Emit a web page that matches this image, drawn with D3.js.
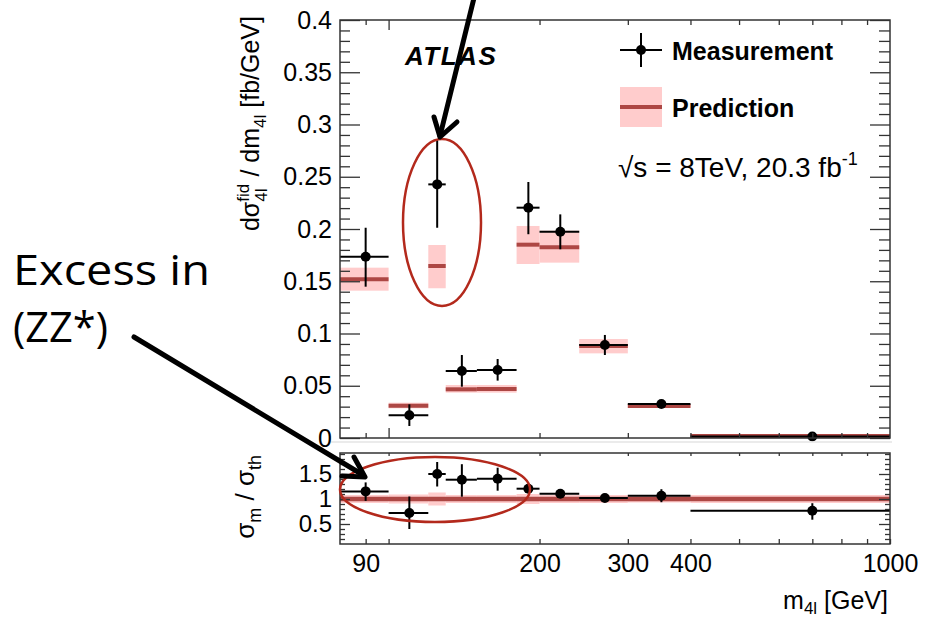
<!DOCTYPE html>
<html>
<head>
<meta charset="utf-8">
<script src="https://cdn.jsdelivr.net/npm/d3@7"></script>
<style>
  body { margin: 0; background: #fff; }
  svg { display: block; font-family: 'Liberation Sans', Arial, Helvetica, sans-serif; }
</style>
</head>
<body>
<script>
'use strict';

// m4l bins [GeV]
const binLow = [80, 100, 120, 130, 150, 180, 200, 240, 300, 400];
const binHigh = [100, 120, 130, 150, 180, 200, 240, 300, 400, 1000];
const binCentre = [90, 110, 125, 140, 165, 190, 220, 270, 350, 700];

// measured d(sigma)/dm4l [fb/GeV]
const measured = [0.1735, 0.0217, 0.2427, 0.0641, 0.0651, 0.2204, 0.1974, 0.089, 0.0325, 0.0015];
const measErrUp = [0.0277, 0.0105, 0.0423, 0.0153, 0.0105, 0.0246, 0.0166, 0.0096, 0.003, 0.0005];
const measErrDown = [0.0287, 0.0102, 0.0415, 0.015, 0.0102, 0.0254, 0.0168, 0.0096, 0.003, 0.0005];

// prediction and its band
const predicted = [0.152, 0.0309, 0.1646, 0.0466, 0.0469, 0.185, 0.1825, 0.088, 0.0306, 0.002];
const predLow = [0.141, 0.0284, 0.1433, 0.0434, 0.0434, 0.1665, 0.1678, 0.081, 0.0287, 0.0012];
const predHigh = [0.163, 0.0338, 0.1847, 0.0507, 0.0507, 0.2029, 0.1984, 0.0947, 0.0325, 0.0028];

// ratio panel
const ratio = [1.152, 0.72, 1.5, 1.386, 1.406, 1.206, 1.106, 1.02, 1.066, 0.766];
const ratioErrUp = [0.18, 0.33, 0.24, 0.31, 0.22, 0.09, 0.05, 0.04, 0.13, 0.15];
const ratioErrDown = [0.19, 0.32, 0.25, 0.34, 0.24, 0.09, 0.05, 0.04, 0.13, 0.18];
const ratioBand = [0.08, 0.09, 0.13, 0.08, 0.08, 0.1, 0.08, 0.08, 0.07, 0.08];

// tick labels
const topTicks = [0, 0.05, 0.1, 0.15, 0.2, 0.25, 0.3, 0.35, 0.4];
const ratioTicks = [0.5, 1, 1.5];
const massTicks = [90, 200, 300, 400, 1000];

const width = 925;
const height = 619;
const bandColor = '#ffcccc';
const predColor = '#ad4744';
const ovalColor = '#b3291c';

const svg = d3.select('body').append('svg')
  .attr('width', width)
  .attr('height', height);

const x = d3.scaleLog().domain([80, 1000]).range([340, 890]);
const yTop = d3.scaleLinear().domain([0, 0.4]).range([438, 20]);
const yRatio = d3.scaleLinear().domain([0.1, 1.92]).range([544, 453]);

const fmt = function(d) { return String(+d.toFixed(2)); };
const minorMass = [90, 200, 300, 500, 600, 700, 800, 900, 400];

function tickGroup(axis, pos, values, size, labels, fontSize) {
  const g = svg.append('g').attr('transform', pos);
  g.call(axis.tickValues(values).tickSizeInner(-size).tickSizeOuter(0).tickPadding(8)
    .tickFormat(labels ? fmt : function() { return ''; }));
  g.attr('font-family', null).attr('font-size', fontSize || 25);
  g.select('.domain').remove();
  g.selectAll('line').attr('stroke', '#333').attr('stroke-width', 1.3);
  g.selectAll('text').attr('fill', '#000');
  return g;
}

function minorValues(lo, hi, step, majors) {
  const out = [];
  for (let v = lo; v <= hi + 1e-9; v += step) {
    const r = +v.toFixed(3);
    if (!majors.some(function(m) { return Math.abs(m - r) < 1e-6; })) out.push(r);
  }
  return out;
}

// ---- top panel marks
const idx = d3.range(binLow.length);

svg.append('g').selectAll('rect')
  .data(idx).enter().append('rect')
  .attr('x', function(i) { return x(binLow[i]); })
  .attr('width', function(i) { return x(binHigh[i]) - x(binLow[i]); })
  .attr('y', function(i) { return yTop(predHigh[i]); })
  .attr('height', function(i) { return yTop(predLow[i]) - yTop(predHigh[i]); })
  .attr('fill', bandColor);

svg.append('g').selectAll('line')
  .data(idx).enter().append('line')
  .attr('x1', function(i) { return x(binLow[i]); })
  .attr('x2', function(i) { return x(binHigh[i]); })
  .attr('y1', function(i) { return yTop(predicted[i]); })
  .attr('y2', function(i) { return yTop(predicted[i]); })
  .attr('stroke', predColor)
  .attr('stroke-width', 4);

function drawPoints(scale, vals, up, down) {
  const g = svg.append('g').attr('stroke', '#000').attr('stroke-width', 2);
  const p = g.selectAll('g').data(idx).enter().append('g');
  p.append('line')
    .attr('x1', function(i) { return x(binLow[i]); })
    .attr('x2', function(i) { return x(binHigh[i]); })
    .attr('y1', function(i) { return scale(vals[i]); })
    .attr('y2', function(i) { return scale(vals[i]); });
  p.append('line')
    .attr('x1', function(i) { return x(binCentre[i]); })
    .attr('x2', function(i) { return x(binCentre[i]); })
    .attr('y1', function(i) { return scale(vals[i] + up[i]); })
    .attr('y2', function(i) { return scale(vals[i] - down[i]); });
  p.append('circle')
    .attr('cx', function(i) { return x(binCentre[i]); })
    .attr('cy', function(i) { return scale(vals[i]); })
    .attr('r', 5)
    .attr('stroke', 'none')
    .attr('fill', '#000');
}

drawPoints(yTop, measured, measErrUp, measErrDown);

// ---- ratio panel marks
svg.append('line')
  .attr('x1', 330).attr('x2', 892).attr('y1', 442).attr('y2', 442)
  .attr('stroke', '#e4e4e4').attr('stroke-width', 1.5);

svg.append('g').selectAll('rect')
  .data(idx).enter().append('rect')
  .attr('x', function(i) { return x(binLow[i]); })
  .attr('width', function(i) { return x(binHigh[i]) - x(binLow[i]); })
  .attr('y', function(i) { return yRatio(1 + ratioBand[i]); })
  .attr('height', function(i) { return yRatio(1 - ratioBand[i]) - yRatio(1 + ratioBand[i]); })
  .attr('fill', bandColor);

svg.append('line')
  .attr('x1', x(80)).attr('x2', x(1000))
  .attr('y1', yRatio(1)).attr('y2', yRatio(1))
  .attr('stroke', predColor)
  .attr('stroke-width', 4.5);

drawPoints(yRatio, ratio, ratioErrUp, ratioErrDown);

// ---- axes, top panel
tickGroup(d3.axisLeft(yTop), 'translate(340,0)', topTicks, 20, true);
tickGroup(d3.axisLeft(yTop), 'translate(340,0)', minorValues(0, 0.4, 0.01, topTicks), 10, false);
tickGroup(d3.axisRight(yTop), 'translate(890,0)', topTicks, 20, false);
tickGroup(d3.axisRight(yTop), 'translate(890,0)', minorValues(0, 0.4, 0.01, topTicks), 11, false);
tickGroup(d3.axisBottom(x), 'translate(0,438)', [100], 10, false);
tickGroup(d3.axisBottom(x), 'translate(0,438)', minorMass, 5, false);
tickGroup(d3.axisTop(x), 'translate(0,20)', [100], 10, false);
tickGroup(d3.axisTop(x), 'translate(0,20)', minorMass, 5, false);

svg.append('rect')
  .attr('x', 340).attr('y', 20).attr('width', 550).attr('height', 418)
  .attr('fill', 'none').attr('stroke', '#333').attr('stroke-width', 1.5);

// ---- axes, ratio panel
tickGroup(d3.axisLeft(yRatio), 'translate(340,0)', ratioTicks, 10, true, 24);
tickGroup(d3.axisLeft(yRatio), 'translate(340,0)', minorValues(0.2, 1.9, 0.1, ratioTicks), 5, false);
tickGroup(d3.axisRight(yRatio), 'translate(890,0)', ratioTicks, 11, false);
tickGroup(d3.axisRight(yRatio), 'translate(890,0)', minorValues(0.2, 1.9, 0.1, ratioTicks), 5, false);
const xLab = tickGroup(d3.axisBottom(x), 'translate(0,544)', massTicks, 5, true);
xLab.selectAll('text').attr('dy', '0.78em');
tickGroup(d3.axisBottom(x), 'translate(0,544)', [100, 500, 600, 700, 800, 900], 5, false);
tickGroup(d3.axisTop(x), 'translate(0,453)', [100, 200, 300, 400, 500, 600, 700, 800, 900], 3, false);

svg.append('rect')
  .attr('x', 340).attr('y', 453).attr('width', 550).attr('height', 91)
  .attr('fill', 'none').attr('stroke', '#333').attr('stroke-width', 1.5);

// ---- axis titles
const yTitle = svg.append('text')
  .attr('transform', 'translate(259,16) rotate(-90)')
  .attr('text-anchor', 'end')
  .attr('font-size', 25);
yTitle.append('tspan').text('dσ');
yTitle.append('tspan').attr('font-size', 17).attr('dy', -10).text('fid');
yTitle.append('tspan').attr('font-size', 17).attr('dx', -18).attr('dy', 18).text('4l');
yTitle.append('tspan').attr('dx', 5).attr('dy', -8).text(' / dm');
yTitle.append('tspan').attr('font-size', 17).attr('dy', 7).text('4l');
yTitle.append('tspan').attr('dy', -7).text(' [fb/GeV]');

const rTitle = svg.append('text')
  .attr('transform', 'translate(254,455) rotate(-90)')
  .attr('text-anchor', 'end')
  .attr('font-size', 26);
rTitle.append('tspan').text('σ');
rTitle.append('tspan').attr('font-size', 18).attr('dy', 7).text('m');
rTitle.append('tspan').attr('dy', -7).text(' / σ');
rTitle.append('tspan').attr('font-size', 18).attr('dy', 7).text('th');

const xTitle = svg.append('text')
  .attr('x', 888).attr('y', 609)
  .attr('text-anchor', 'end')
  .attr('font-size', 25);
xTitle.append('tspan').text('m');
xTitle.append('tspan').attr('font-size', 17).attr('dy', 5).text('4l');
xTitle.append('tspan').attr('dy', -5).text(' [GeV]');

// ---- legend and labels
svg.append('text')
  .attr('x', 405).attr('y', 65)
  .attr('font-size', 26).attr('font-weight', 'bold').attr('font-style', 'italic')
  .attr('letter-spacing', 1.5)
  .text('ATLAS');

const legend = svg.append('g');
legend.append('line').attr('x1', 620).attr('x2', 662).attr('y1', 50).attr('y2', 50)
  .attr('stroke', '#000').attr('stroke-width', 2);
legend.append('line').attr('x1', 641).attr('x2', 641).attr('y1', 33).attr('y2', 67)
  .attr('stroke', '#000').attr('stroke-width', 2);
legend.append('circle').attr('cx', 641).attr('cy', 50).attr('r', 5);
legend.append('text').attr('x', 672).attr('y', 60)
  .attr('font-size', 25).attr('font-weight', 'bold').text('Measurement');
legend.append('rect').attr('x', 620).attr('y', 87).attr('width', 42).attr('height', 40)
  .attr('fill', bandColor);
legend.append('line').attr('x1', 620).attr('x2', 662).attr('y1', 107).attr('y2', 107)
  .attr('stroke', predColor).attr('stroke-width', 4);
legend.append('text').attr('x', 672).attr('y', 117)
  .attr('font-size', 25).attr('font-weight', 'bold').text('Prediction');

const lumi = svg.append('text')
  .attr('x', 618).attr('y', 177)
  .attr('font-size', 28);
lumi.append('tspan').text('√s = 8TeV, 20.3 fb');
lumi.append('tspan').attr('font-size', 18).attr('dy', -12).text('-1');

// ---- hand-drawn annotations
svg.append('ellipse')
  .attr('cx', 442).attr('cy', 222.5).attr('rx', 39).attr('ry', 83.5)
  .attr('fill', 'none').attr('stroke', ovalColor).attr('stroke-width', 2.5);
svg.append('ellipse')
  .attr('cx', 435).attr('cy', 489.5).attr('rx', 95).attr('ry', 32.5)
  .attr('fill', 'none').attr('stroke', ovalColor).attr('stroke-width', 2.5);

const arrows = svg.append('g')
  .attr('fill', 'none').attr('stroke', '#000').attr('stroke-width', 5)
  .attr('stroke-linecap', 'round').attr('stroke-linejoin', 'round');
arrows.append('path').attr('d', 'M474,-2 L440,136');
arrows.append('path').attr('d', 'M434,117 L440,137 L457,122');
arrows.append('path').attr('d', 'M134,337 L363,475');
arrows.append('path').attr('d', 'M354,457 L365,477 L342,476');

svg.append('text')
  .attr('x', 13).attr('y', 285)
  .attr('font-family', "'Open Sans', 'DejaVu Sans', sans-serif")
  .attr('font-size', 42)
  .attr('textLength', 197).attr('lengthAdjust', 'spacingAndGlyphs')
  .text('Excess in');
svg.append('text')
  .attr('x', 13).attr('y', 342)
  .attr('font-family', "'Open Sans', 'DejaVu Sans', sans-serif")
  .attr('font-size', 42)
  .attr('textLength', 95).attr('lengthAdjust', 'spacingAndGlyphs')
  .text('(ZZ*)');
</script>
</body>
</html>
